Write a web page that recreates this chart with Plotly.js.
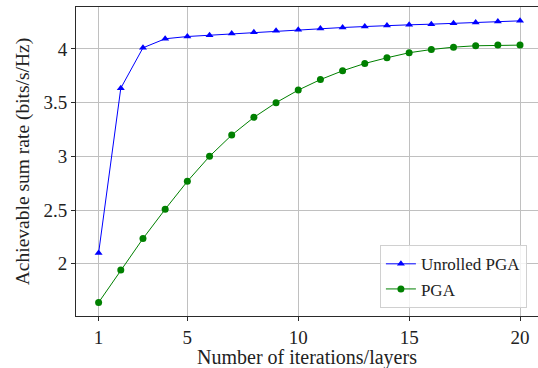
<!DOCTYPE html>
<html>
<head>
<meta charset="utf-8">
<script src="https://cdn.plot.ly/plotly-3.0.1.min.js"></script>
<style>html,body{margin:0;padding:0;background:#fff;}#chart{width:538px;height:368px;}</style>
</head>
<body>
<div id="chart"></div>
<script>
const iterations = [1,2,3,4,5,6,7,8,9,10,11,12,13,14,15,16,17,18,19,20];
const unrolledPGA = [2.10,3.635,4.011,4.095,4.116,4.128,4.144,4.156,4.169,4.180,4.190,4.200,4.209,4.219,4.225,4.231,4.240,4.247,4.256,4.262];
const PGA = [1.639,1.942,2.234,2.507,2.767,3.000,3.198,3.363,3.500,3.617,3.715,3.797,3.865,3.918,3.965,3.995,4.017,4.030,4.036,4.036];
const xTicks = [1,5,10,15,20];
const yTicks = [2,2.5,3,3.5,4];
const yTickText = ["2","2.5","3","3.5","4"];
const xTitle = "Number of iterations/layers";
const yTitle = "Achievable sum rate (bits/s/Hz)";

const FONT = "'Liberation Serif', 'Times New Roman', serif";
const TXT = "#222";

const traces = [
  {x: iterations, y: unrolledPGA, name: "Unrolled PGA", type: "scatter", mode: "lines+markers",
   line: {color: "#0000ff", width: 1}, marker: {symbol: "triangle-up", size: 7, color: "#0000ff"}},
  {x: iterations, y: PGA, name: "PGA", type: "scatter", mode: "lines+markers",
   line: {color: "#008000", width: 1}, marker: {symbol: "circle", size: 7, color: "#008000"}}
];

const layout = {
  width: 538, height: 368,
  margin: {l: 76, r: 0, t: 7, b: 52},
  paper_bgcolor: "#fff", plot_bgcolor: "#fff",
  font: {family: FONT, size: 19, color: TXT},
  showlegend: true,
  legend: {x: 0.976, xanchor: "right", y: 0.025, yanchor: "bottom",
    bgcolor: "rgba(255,255,255,0.8)", bordercolor: "#d0d0d0", borderwidth: 1,
    font: {family: FONT, size: 17, color: TXT}, tracegroupgap: 0, itemwidth: 30},
  xaxis: {range: [-0.02, 20.81], tickmode: "array", tickvals: xTicks,
    showgrid: true, gridcolor: "#c0c0c0", gridwidth: 1,
    showline: true, linecolor: "#2a2a2a", linewidth: 1, mirror: true,
    ticks: "outside", ticklen: 4, tickcolor: "#2a2a2a", zeroline: false,
    tickfont: {family: FONT, size: 19, color: TXT},
    title: {text: ""}},
  yaxis: {range: [1.513, 4.391], tickmode: "array", tickvals: yTicks, ticktext: yTickText,
    showgrid: true, gridcolor: "#c0c0c0", gridwidth: 1,
    showline: true, linecolor: "#2a2a2a", linewidth: 1, mirror: false,
    ticks: "outside", ticklen: 4, tickcolor: "#2a2a2a", zeroline: false,
    tickfont: {family: FONT, size: 19, color: TXT},
    title: {text: yTitle, font: {family: FONT, size: 19.5, color: TXT}, standoff: 8}},
  annotations: [{text: xTitle, xref: "paper", yref: "paper", x: 0.5, y: 0, yshift: -41,
    xanchor: "center", yanchor: "middle", showarrow: false, font: {family: FONT, size: 20, color: TXT}}]
};

Plotly.newPlot("chart", traces, layout, {displayModeBar: false, staticPlot: true});
</script>
</body>
</html>
